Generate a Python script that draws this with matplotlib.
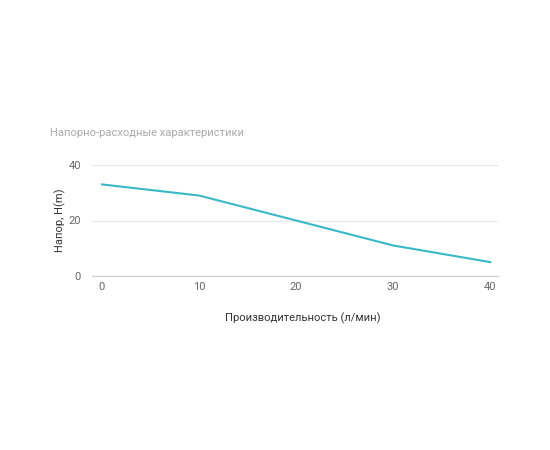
import matplotlib
matplotlib.use("Agg")
from matplotlib import pyplot as plt

flow = [0, 10, 20, 30, 40]
head = [33, 29, 20, 11, 5]
x_ticks = [0, 10, 20, 30, 40]
y_ticks = [0, 20, 40]

plt.rcParams['font.family'] = ['Roboto', 'DejaVu Sans']
fig = plt.figure(figsize=(5.5, 4.5), dpi=100)
ax = fig.add_axes([92 / 550, 1 - 276 / 450, 406 / 550, 111 / 450])

ax.plot(flow, head, color='#3bb8c8', linewidth=1.5)
ax.set_xlim(-1.03, 40.8)
ax.set_ylim(0, 40)
ax.set_xticks(x_ticks)
ax.set_yticks(y_ticks)
ax.grid(axis='y', color='#e6e6e6', linewidth=0.8)
ax.set_axisbelow(True)
for s in ['top', 'right', 'left']:
    ax.spines[s].set_visible(False)
ax.spines['bottom'].set_color('#cccccc')
ax.tick_params(axis='x', length=0, labelsize=8, colors='#666666', pad=4)
ax.tick_params(axis='y', length=0, labelsize=8, colors='#666666', pad=8)
ax.set_xlabel('Производительность (л/мин)', fontsize=8, color='#333333', labelpad=10)
ax.xaxis.set_label_coords(0.52, -0.33)
ax.set_ylabel('Напор, H(m)', fontsize=8, color='#333333', labelpad=2)

fig.text(50 / 550, 1 - 133 / 450, 'Напорно-расходные характеристики',
         fontsize=8, color='#aaaaaa', va='center')

fig.savefig('out.png', dpi=100, facecolor='white')
